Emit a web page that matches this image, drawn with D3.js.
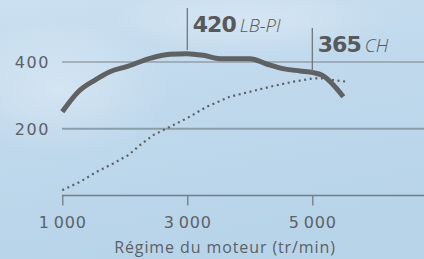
<!DOCTYPE html>
<html><head><meta charset="utf-8">
<script src="https://cdn.jsdelivr.net/npm/d3@7"></script>
<style>
html,body{margin:0;padding:0;overflow:hidden;background:#bdd6ea;}
svg{display:block;font-family:"DejaVu Sans",sans-serif;}
</style></head><body>
<svg id="c" width="424" height="259"></svg>
<script>
const rpm = [1000,1256,1523,1763,2030,2403,2723,2990,3256,3523,4003,4270,4510,4803,5016,5150,5496];
const torque = [251,311,346,371,386,411,423,425,420,410,410,394,381,373,368,361,296];
const rpmHp = [1000,1283,1550,1816,2056,2243,2456,2670,2990,3310,3683,4003,4376,4696,5016,5150,5336,5550];
const power = [16,41,71,96,121,151,181,201,231,266,296,311,328,341,351,351,346,341];
const xTicks = [1000,3000,5000];
const xTickLabels = ["1\u2009000","3\u2009000","5\u2009000"];
const yTicks = [200,400];
const peakTorque = {rpm:3000, value:"420", unit:"LB-PI"};
const peakPower = {rpm:5000, value:"365", unit:"CH"};
const xTitle = "Régime du moteur (tr/min)";

const svg = d3.select("#c");
const W = 424, H = 259;
const defs = svg.append("defs");
const g1 = defs.append("linearGradient").attr("id","bg").attr("x1",0).attr("y1",0).attr("x2",0.3).attr("y2",1);
g1.append("stop").attr("offset","0").attr("stop-color","#cbe0f0");
g1.append("stop").attr("offset","0.5").attr("stop-color","#bfd8ec");
g1.append("stop").attr("offset","1").attr("stop-color","#b8d4e9");
svg.append("rect").attr("width",W).attr("height",H).attr("fill","url(#bg)");
const rg = defs.append("radialGradient").attr("id","cloud");
rg.append("stop").attr("offset","0").attr("stop-color","#ffffff").attr("stop-opacity",0.28);
rg.append("stop").attr("offset","1").attr("stop-color","#ffffff").attr("stop-opacity",0);
svg.append("ellipse").attr("cx",60).attr("cy",90).attr("rx",110).attr("ry",70).attr("fill","url(#cloud)");
svg.append("ellipse").attr("cx",250).attr("cy",20).attr("rx",140).attr("ry",35).attr("fill","url(#cloud)");

const x = d3.scaleLinear().domain([1000,5000]).range([62.3,312.3]);
const y = d3.scaleLinear().domain([0,400]).range([195.5,62]);

// gridlines
svg.append("line").attr("x1",62).attr("x2",W).attr("y1",y(400)).attr("y2",y(400))
  .attr("stroke","#7d8288").attr("stroke-width",1.2);
svg.append("line").attr("x1",62).attr("x2",W).attr("y1",y(200)).attr("y2",y(200))
  .attr("stroke","#8c9eab").attr("stroke-width",2);

const txtCol = "#5d6166";
// y labels
svg.selectAll(".yl").data(yTicks).enter().append("text")
  .attr("x",50).attr("y",d=>y(d)).attr("dy","0.36em").attr("text-anchor","end")
  .attr("font-size",16).attr("letter-spacing","1.6").attr("fill",txtCol).text(d=>d);

// x axis
const xAxis = d3.axisBottom(x).tickValues(xTicks).tickSize(10).tickFormat((d,i)=>xTickLabels[i]);
const ax = svg.append("g").attr("transform",`translate(0,${y(0)})`).call(xAxis);
ax.select(".domain").remove();
ax.append("line").attr("x1",62).attr("x2",W).attr("y1",0).attr("y2",0).attr("stroke","#737d85").attr("stroke-width",1.5);
ax.selectAll(".tick line").attr("stroke","#737d85").attr("stroke-width",1.3);
ax.selectAll(".tick text").attr("font-size",16).attr("fill",txtCol).attr("y",21)
  .attr("letter-spacing","0.8").attr("font-family","'DejaVu Sans',sans-serif");

svg.append("text").attr("x",225).attr("y",253).attr("text-anchor","middle")
  .attr("font-family","'Open Sans',sans-serif")
  .attr("font-size",16).attr("letter-spacing","0.9").attr("fill",txtCol).text(xTitle);

// power dotted
const lineHp = d3.line().x((d,i)=>x(rpmHp[i])).y(d=>y(d));
svg.append("path").datum(power).attr("d",lineHp).attr("fill","none")
  .attr("stroke","#5e6064").attr("stroke-width",2.2).attr("stroke-dasharray","2,3.6");

// torque solid
const lineTq = d3.line().x((d,i)=>x(rpm[i])).y(d=>y(d)).curve(d3.curveMonotoneX);
svg.append("path").datum(torque).attr("d",lineTq).attr("fill","none")
  .attr("stroke","#606162").attr("stroke-width",5).attr("stroke-linejoin","round");

// annotations
function annot(p, y1, y2, ty){
  const xx = x(p.rpm);
  svg.append("line").attr("x1",xx).attr("x2",xx).attr("y1",y1).attr("y2",y2)
    .attr("stroke","#6b6f73").attr("stroke-width",1.2);
  const t = svg.append("text").attr("x",xx+5.5).attr("y",ty).attr("fill","#58595b");
  t.append("tspan").attr("font-size",22).attr("font-weight",700).attr("letter-spacing","-1").text(p.value);
  t.append("tspan").attr("dx",4).attr("font-size",18.5).attr("font-style","italic").attr("font-weight",300)
    .attr("font-family","'Open Sans',sans-serif").text(p.unit);
}
annot(peakTorque, 8, 50, 32.3);
annot(peakPower, 28, 72, 51.7);
</script>
</body></html>
